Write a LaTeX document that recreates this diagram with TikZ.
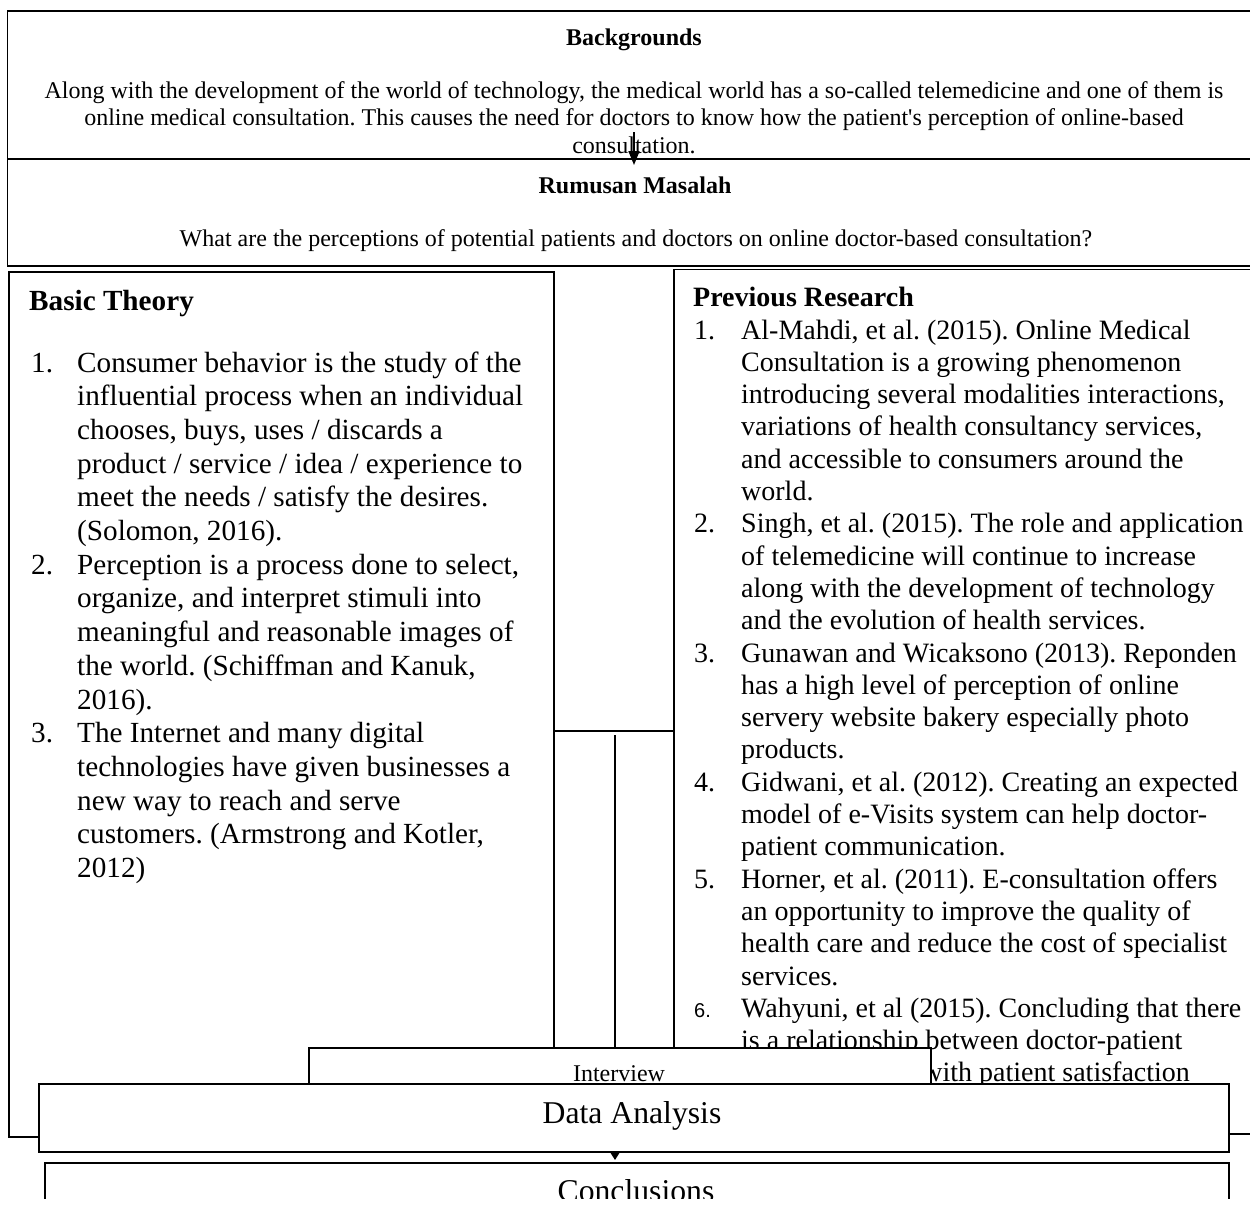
\documentclass[tikz,border=0pt]{standalone}
\usepackage{fontspec}
\setmainfont{Liberation Serif}
\newfontfamily\numsans{Liberation Sans}
\usetikzlibrary{arrows.meta}
\newcommand\fsz[2]{\fontsize{#1}{#2}\selectfont}
\frenchspacing
\begin{document}
\frenchspacing
\begin{tikzpicture}[x=1pt,y=-1pt,
  box/.style={draw, line width=1.6pt, fill=white, inner sep=0pt, anchor=north west},
  conn/.style={line width=1.6pt},
  arrowconn/.style={line width=1.6pt, -{Triangle[length=14pt,width=11pt]}},
  smallarrow/.style={line width=1.6pt, -{Triangle[length=9pt,width=11pt]}},
  txt/.style={inner sep=0pt, anchor=base},
  body/.style={txt, font=\fsz{24}{27.6}},
  head/.style={txt, font=\fsz{24}{27.6}\bfseries},
  colhead/.style={inner sep=0pt, anchor=base west, font=\fsz{28.5}{32}\bfseries},
  big/.style={txt, font=\fsz{31.7}{36}}
]
\useasboundingbox (0,0) rectangle (1250,1213);
\fill[white] (0,0) rectangle (1250,1213);
\clip (0,0) rectangle (1250,1198);

% top boxes
\node[box, minimum width=1256pt, minimum height=148pt] (bg) at (6.5,10) {};
\node[box, minimum width=1256pt, minimum height=107pt] (rm) at (6.5,158) {};
\node[head] (bgt) at (634,45) {Backgrounds};
\node[body] (bgb) at (634,98) {\begin{tabular}[t]{@{}c@{}}Along with the development of the world of technology, the medical world has a so-called telemedicine and one of them is\\
online medical consultation. This causes the need for doctors to know how the patient\textquotesingle s perception of online-based\\
consultation.\end{tabular}};
\node[head] (rmt) at (635,193) {Rumusan Masalah};
\node[body] (rmb) at (636,246) {What are the perceptions of potential patients and doctors on online doctor-based consultation?};
\coordinate (a1s) at (634,132);
\coordinate (a1e) at (634,165);
\draw[arrowconn] (a1s) -- (a1e);

% columns
\node[box, minimum width=545pt, minimum height=865pt] (bt) at (8,271) {};
\node[box, minimum width=590pt, minimum height=864.5pt] (pr) at (673,268.5) {};

\node[colhead, font=\fsz{29.2}{33.7}\bfseries] (btt) at (29,310) {Basic Theory};
\node[inner sep=0pt, anchor=base west, font=\fsz{29.2}{33.7}] (btl) at (31,372) {\begin{tabular}[t]{@{}p{46pt}@{}l@{}}
1. & Consumer behavior is the study of the\\
 & influential process when an individual\\
 & chooses, buys, uses / discards a\\
 & product / service / idea / experience to\\
 & meet the needs / satisfy the desires.\\
 & (Solomon, 2016).\\
2. & Perception is a process done to select,\\
 & organize, and interpret stimuli into\\
 & meaningful and reasonable images of\\
 & the world. (Schiffman and Kanuk,\\
 & 2016).\\
3. & The Internet and many digital\\
 & technologies have given businesses a\\
 & new way to reach and serve\\
 & customers. (Armstrong and Kotler,\\
 & 2012)
\end{tabular}};

\node[colhead, font=\fsz{28}{32.3}\bfseries] (prt) at (693,306) {Previous Research};
\node[inner sep=0pt, anchor=base west, font=\fsz{28}{32.3}] (prl) at (694,339) {\begin{tabular}[t]{@{}p{47pt}@{}l@{}}
1. & Al-Mahdi, et al. (2015). Online Medical\\
 & Consultation is a growing phenomenon\\
 & introducing several modalities interactions,\\
 & variations of health consultancy services,\\
 & and accessible to consumers around the\\
 & world.\\
2. & Singh, et al. (2015). The role and application\\
 & of telemedicine will continue to increase\\
 & along with the development of technology\\
 & and the evolution of health services.\\
3. & Gunawan and Wicaksono (2013). Reponden\\
 & has a high level of perception of online\\
 & servery website bakery especially photo\\
 & products.\\
4. & Gidwani, et al. (2012). Creating an expected\\
 & model of e-Visits system can help doctor-\\
 & patient communication.\\
5. & Horner, et al. (2011). E-consultation offers\\
 & an opportunity to improve the quality of\\
 & health care and reduce the cost of specialist\\
 & services.\\
{\numsans\fontsize{20}{24}\selectfont 6.} & Wahyuni, et al (2015). Concluding that there\\
 & is a relationship between doctor-patient\\
 & communication with patient satisfaction
\end{tabular}};

% junction
\coordinate (jy) at (0,731);
\coordinate (jv) at (615,735);
\draw[conn] (bt.east |- jy) -- (pr.west |- jy);

% interview
\node[box, minimum width=622pt, minimum height=60pt] (iv) at (308,1047) {};
\draw[conn] (jv) -- (jv |- iv.north);
\node[txt, font=\fsz{24}{27.6}] (ivt) at (619,1081) {Interview};

% data analysis
\node[box, minimum width=1190pt, minimum height=68pt] (da) at (38,1083) {};
\node[big] (dat) at (632,1123) {Data Analysis};

% conclusions
\node[box, minimum width=1184pt, minimum height=100pt] (cc) at (44,1162) {};
\node[big] (cct) at (636,1201) {Conclusions};
\coordinate (a2s) at (jv |- da.south);
\coordinate (a2e) at (615,1160);
\draw[smallarrow] (a2s) -- (a2e);
\end{tikzpicture}
\end{document}
